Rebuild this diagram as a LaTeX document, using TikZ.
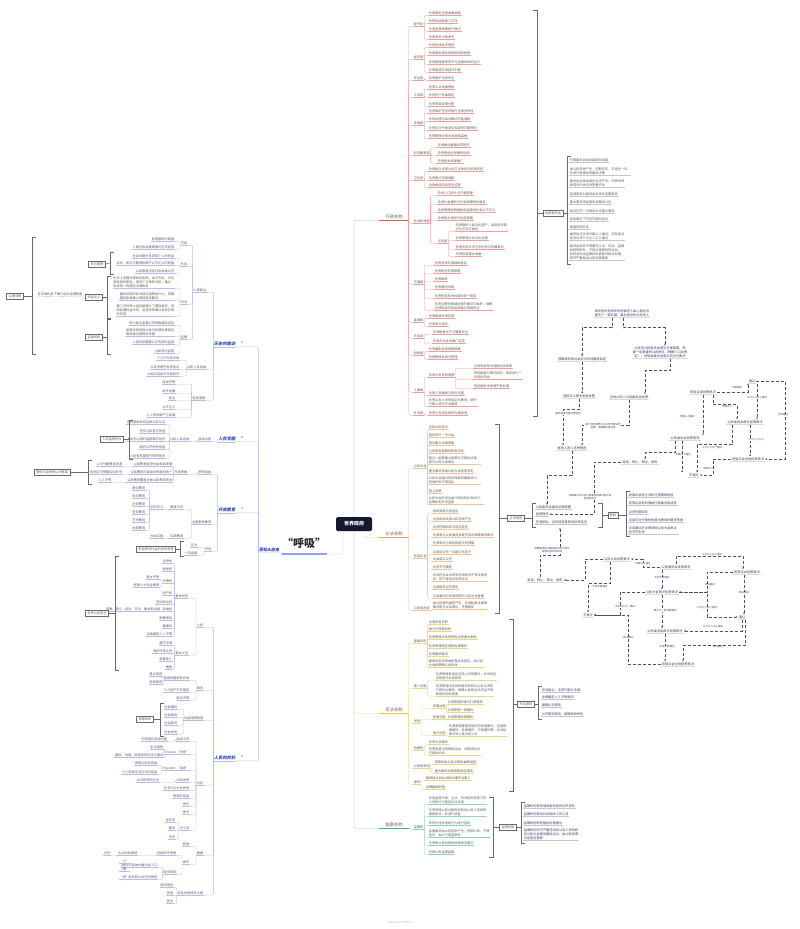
\documentclass[tikz,border=0pt]{standalone}
\usepackage{fontspec}
\setmainfont{Noto Sans CJK SC}
\newfontfamily\blfont[FakeSlant=0.18]{Noto Sans CJK SC}
\usetikzlibrary{arrows.meta}
\definecolor{txtc}{HTML}{5A5A5A}
\definecolor{rdl}{HTML}{EBA098}
\definecolor{rdm}{HTML}{D9534F}
\definecolor{orl}{HTML}{F2C39A}
\definecolor{orm}{HTML}{F0A050}
\definecolor{yll}{HTML}{EED77A}
\definecolor{ylm}{HTML}{F2C631}
\definecolor{grl}{HTML}{8FD3BC}
\definecolor{grm}{HTML}{3DB489}
\definecolor{bll}{HTML}{B3BFEA}
\definecolor{blm}{HTML}{8C9FF0}
\definecolor{blt}{HTML}{2E4BB0}
\definecolor{navy}{HTML}{3A3A66}
\definecolor{boxc}{HTML}{6A6A6A}
\definecolor{wbox}{HTML}{17172F}
\definecolor{fdash}{HTML}{505060}
\newcommand\lfont{\fontsize{3.2}{3.9}\selectfont}
\newcommand\sfont{\fontsize{2.5}{3.0}\selectfont}
\tikzset{
 lf/.style={font=\lfont, text=txtc, inner xsep=0.6pt, inner ysep=0.5pt, align=left},
 ln/.style={line width=0.35pt, rounded corners=1.2pt},
 mainlab/.style={font=\fontsize{4.3}{5}\selectfont, text=txtc, inner xsep=6pt, inner ysep=1pt},
 blab/.style={font=\fontsize{4.2}{5}\selectfont\blfont\bfseries, text=blt, inner xsep=0.6pt, inner ysep=0.5pt},
 sl/.style={font=\sfont, text=gray, inner sep=0.3pt},
 boxn/.style={draw=boxc, line width=0.5pt, font=\lfont, text=txtc, inner xsep=2pt, inner ysep=1.5pt, fill=white},
 brk/.style={draw=boxc, line width=0.5pt},
 fl/.style={font=\lfont, text=navy, inner sep=1pt, align=center},
 fa/.style={densely dashed, line width=0.4pt, draw=fdash, -{Stealth[length=2pt,width=1.8pt]}},
 el/.style={font=\sfont, text=navy, fill=white, inner sep=0.3pt, align=center},
 sumt/.style={lf, text=navy},
}
\newcommand\RCX[7]{\node[#1,anchor=west] (#3) at (#4,#5) {#7};
 \draw[#6,ln] (#3.south west) -- (#3.south east);
 \draw[#6,ln] (#3.south west) -| (#2.south east);}
\newcommand\LCX[7]{\node[#1,anchor=east] (#3) at (#4,#5) {#7};
 \draw[#6,ln] (#3.south west) -- (#3.south east);
 \draw[#6,ln] (#3.south east) -| (#2.south west);}
\newcommand\RC{\RCX{lf}}
\newcommand\LC{\LCX{lf}}
\newcommand\RG[5]{\foreach \yy/\tx [count=\k] in {#5}{\RC{#1}{#2\k}{#3}{\yy}{#4}{\tx}}}
\newcommand\LG[5]{\foreach \yy/\tx [count=\k] in {#5}{\LC{#1}{#2\k}{#3}{\yy}{#4}{\tx}}}
\newcommand\sumlist[4]{\foreach \yy/\tx [count=\k] in {#4}{\node[sumt,anchor=west,text=#3] (#1\k) at (#2,\yy) {\tx};
 \draw[gray!45,line width=0.35pt] (#1\k.south west) -- (#1\k.south east);}}
\newcommand\brL[3]{\draw[brk] (#1+4,#2) -- (#1,#2) -- (#1,#3) -- (#1+4,#3);}
\newcommand\brR[3]{\draw[brk] (#1-4,#2) -- (#1,#2) -- (#1,#3) -- (#1-4,#3);}
\newcommand\fn[4]{\node[fl] (#1) at (#2,#3) {#4};
 \draw[gray!30,line width=0.6pt] (#1.south west) -- (#1.south east);}
\begin{document}
\begin{tikzpicture}[x=1pt,y=-1pt]
\fill[white] (0,0) rectangle (800,929);
\useasboundingbox (0,0) rectangle (800,929);

% ---------- centre ----------
\node[fill=wbox, text=white, rounded corners=1.5pt, minimum width=36pt, minimum height=14pt, inner sep=1pt,
 font=\fontsize{5}{6}\selectfont\bfseries] (W) at (354,524) {世界政府};
\node[font=\fontsize{11}{12}\selectfont\bfseries, text=black!85, inner sep=0pt] (HX) at (304,543) {“呼吸”};
\coordinate (HXl) at (282,554);
\coordinate (HXr) at (327,554);
\draw[blm, line width=1.6pt] (HXl) -- (HXr);
\draw[bll,ln] (HXr) -| ([xshift=-11pt]W.south);

% ---------- main right labels ----------
\node[mainlab] (XZ) at (394,217) {行政机构};
\draw[rdm,line width=1.3pt] (XZ.south west) -- (XZ.south east);
\draw[rdl,ln] (XZ.south west) -| (W.north);
\node[mainlab] (LF) at (394,534) {立法机构};
\draw[orm,line width=1.3pt] (LF.south west) -- (LF.south east);
\draw[orl,ln] (LF.south west) -| ([xshift=11pt]W.south);
\node[mainlab] (SF) at (394,710) {司法机构};
\draw[ylm,line width=1.3pt] (SF.south west) -- (SF.south east);
\draw[yll,ln] (SF.south west) -| (W.south);
\node[mainlab] (JC) at (394,825) {监察机构};
\draw[grm,line width=1.3pt] (JC.south west) -- (JC.south east);
\draw[grl,ln] (JC.south west) -| (W.south);

% ---------- 行政机构 ----------
\RC{XZ}{s1}{413}{24}{rdl}{秘书处}
\RG{s1}{ra}{428}{rdl}{13/负责制定全球发展战略,21/负责协调各部门工作,29/负责监督政策执行情况,37/负责发布行政命令}
\RC{XZ}{s2}{413}{57}{rdl}{经济部}
\RG{s2}{rb}{428}{rdl}{45/负责全球经济规划,53/负责制定国际贸易规则和税收,62/负责管理世界货币与金融体系的运行,70/负责促进区域经济平衡}
\RC{XZ}{s3}{413}{78}{rdl}{安全部}
\RG{s3}{rc}{428}{rdl}{78/负责维护全球安全}
\RC{XZ}{s4}{413}{95}{rdl}{工业部}
\RG{s4}{rd}{428}{rdl}{87/负责工业发展规划,95/负责生产标准制定,104/负责资源合理分配}
\RC{XZ}{s5}{413}{123}{rdl}{环境部}
\RG{s5}{re}{428}{rdl}{111/负责保护生态环境与生物多样性,119/负责治理污染并推动节能减排,128/负责应对气候变化和自然灾害预防,136/负责管理全球水资源和森林}
\RC{XZ}{s6}{413}{153}{rdl}{科学教育部}
\RG{s6}{rf}{437}{rdl}{145/负责推动基础科学研究,153/负责管理全球教育体系,161/负责技术成果推广}
\RC{XZ}{s7}{413}{178}{rdl}{卫生部}
\RG{s7}{rg}{428}{rdl}{169/负责建立全球公共卫生体系与疾病防控,178/负责医疗资源调配,185/负责食品药品安全监管}
\RC{XZ}{s8}{413}{221}{rdl}{社会民政部}
\RG{s8}{rh}{437}{rdl}{193/负责人口统计与户籍管理,202/负责社会福利与社会保障体系建设,210/负责保障弱势群体权益推动社会公平正义,218/负责城乡规划与住房保障}
\RC{s8}{s8b}{437}{241}{rdl}{文化部}
\RG{s8b}{ri}{455}{rdl}{227/{负责保护人类文化遗产，促进各民族\\文化交流与融合},238/负责管理公共文化设施,247/负责支持文学艺术创作与传播事务,254/负责体育事业发展}
\RC{XZ}{s9}{413}{282}{rdl}{交通部}
\RG{s9}{rj}{434}{rdl}{263/负责全球交通网络建设,271/负责航空航海管理,279/负责邮政,287/负责通信网络,296/负责信息技术标准的统一制定,306/{负责互联网基础设施的建设与维护，保障\\全球信息的自由流通与网络安全}}
\RC{XZ}{s10}{413}{320}{rdl}{能源部}
\RG{s10}{rk}{428}{rdl}{316/负责能源开发利用,324/负责电力供应}
\RC{XZ}{s11}{413}{336}{rdl}{农业部}
\RG{s11}{rl}{432}{rdl}{332/负责粮食生产与储备安全,341/负责农业技术推广应用}
\RC{XZ}{s12}{413}{353}{rdl}{财政部}
\RG{s12}{rm}{428}{rdl}{349/负责编制全球财政预算,357/负责税收征收与管理}
\RC{XZ}{s13}{413}{390}{rdl}{人事部}
\RC{s13}{s13b}{428}{375}{rdl}{负责公务员的管理}
\RG{s13b}{rn}{473}{rdl}{366/公务员由考试选拔择优录取,375/{考核结果与晋升挂钩，每年进行一\\次综合评估},386/违纪者依法依规严肃处理}
\RG{s13}{ro}{428}{rdl}{393/负责人员编制与岗位设置,402/{负责公务人员的培训与教育，提升\\行政人员的专业素质}}
\RC{XZ}{s14}{413}{413}{rdl}{外交部}
\RG{s14}{rp}{428}{rdl}{413/负责与各地区政府沟通协调}

\brR{537}{10}{416}
\node[boxn] (XB) at (553,213) {执政委员会};
\draw[brk] (537,213) -- (XB.west);
\brL{567}{156}{264}
\draw[brk] (XB.east) -- (567,213);
\sumlist{xl}{569}{txtc}{160/行政委员会由各部部长组成,171/{由公民选举产生，任期五年，可连任一次，\\负责行政事务的最终决策},183/{委员会主席由委员互选产生，代表世界\\政府对外发言并签署文件},194/各部部长对委员会负责并定期报告,202/重大事项须经委员会集体讨论,211/每月召开一次例会讨论重大事项,219/紧急情况下可召开临时会议,227/每届任期五年,236/{委员会决议须半数以上通过，涉及宪法\\的决议须三分之二以上通过},252/{委员会成员不得兼任立法、司法、监察\\机构的职务，不得从事营利性活动，\\如有违反由监察机构调查并依法处理，\\情节严重者由公民投票罢免}}

% ---------- 立法机构 ----------
\RC{LF}{o1}{413}{466}{orl}{公民大会}
\RG{o1}{oa}{428}{orl}{427/全体公民参与,435/每年举行一次大会,443/审议重大法律草案,451/公民享有提案权和表决权,460/{超过一定数量公民联名可提出议案，\\提交公民大会审议},471/重大事项须由公民大会投票决定,480/{公民大会通过的法律具有最高效力，\\其他机构不得违反},491/网上投票,500/{公民大会的决议由行政机构负责执行，\\监察机构负责监督}}
\RC{LF}{o2}{413}{556}{orl}{民族议会}
\RG{o2}{ob}{432}{orl}{511/各民族按比例选出,519/议员由本民族公民选举产生,527/议员任期四年可连选连任,535/负责审议公民委员会提交的法律草案并表决,543/负责审议行政机构提交的预算,552/议会设议长一名副议长若干,559/议会会议公开,567/议员不可兼职,577/{议员在议会中的发言和表决不受法律追\\究，但不得违反世界宪法},587/议会每年召开两次,596/议会通过的法律须提交公民大会备案}
\RC{LF}{o3}{413}{608}{orl}{公民委员会}
\RG{o3}{oc}{432}{orl}{605/{由公民随机抽签产生，负责起草法律草\\案并提交议会审议，任期两年}}

\brR{499}{424}{613}
\node[boxn] (TA) at (516,518) {立法程序};
\draw[brk] (499,518) -- (TA.west);
\brL{532}{503}{527}
\draw[brk] (TA.east) -- (532,518);
\sumlist{ta}{535}{navy}{507/公民委员会提出法律草案,514/选举程序,522/在选举后，议员须宣誓效忠世界宪法}
\brR{602}{503}{527}
\node[boxn] (TB) at (613,515) {职权};
\draw[brk] (602,515) -- (TB.west);
\brL{626}{491}{536}
\draw[brk] (TB.east) -- (626,515);
\sumlist{tb}{628}{navy}{495/民族议会有立法权与预算审批权,503/民族议会有权弹劾行政委员会成员,512/议员任期四年,520/议会可对行政机构提出质询并要求答复,530/{议会通过的法律须经公民大会审议\\后方可生效}}

% ---------- 司法机构 ----------
\RC{SF}{y1}{413}{641}{yll}{最高法院}
\RG{y1}{ya}{428}{yll}{622/法官终身任职,629/独立行使审判权,637/负责审理涉及世界宪法的重大案件,646/负责审理跨区域的民事案件,654/负责最终裁决,663/{最高法院法官由民族议会提名，经公民\\大会投票确认后任命}}
\RC{SF}{y2}{413}{686}{yll}{第二法庭}
\RG{y2}{yb}{435}{yll}{676/{负责审理各地区法院上诉的案件，并对地区\\法院进行业务指导},690/{负责审理涉及世界政府机构与公民之间的\\行政诉讼案件，保障公民的合法权益不受\\政府机构的侵害}}
\RC{SF}{y3}{413}{721}{yll}{法院}
\RC{y3}{y3a}{432}{706}{yll}{刑事法庭}
\RG{y3a}{yc}{447}{yll}{702/负责审理刑事与行政案件,710/负责审理一审案件}
\RC{y3}{y3b}{432}{717}{yll}{民事法庭}
\RG{y3b}{yd}{447}{yll}{717/负责审理民事案件}
\RC{y3}{y3c}{432}{733}{yll}{地方法院}
\RG{y3c}{ye}{448}{yll}{730/{负责审理管辖区域内的各类案件，包括刑\\事案件、民事案件、行政案件等，判决结\\果可向上级法院上诉}}
\RC{SF}{y4}{413}{748}{yll}{检察院}
\RG{y4}{yf}{428}{yll}{742/负责公诉案件,751/{负责监督法院审判活动，对错误判决\\可提出抗诉}}
\RC{SF}{y5}{413}{766}{yll}{公民陪审团}
\RG{y5}{yg}{434}{yll}{762/陪审员由公民中随机抽取组成,771/重大案件由陪审团裁定事实}
\RC{SF}{y6}{413}{782}{yll}{律师}
\RG{y6}{yh}{425}{yll}{778/律师独立执业并依法维护当事人,787/法律援助制度}

\brR{513}{619}{791}
\node[boxn] (TC) at (526,704) {司法原则};
\draw[brk] (513,704) -- (TC.west);
\brL{538}{686}{719}
\draw[brk] (TC.east) -- (538,704);
\sumlist{tc}{541}{navy}{690/司法独立，法官只服从法律,697/法律面前人人平等原则,705/疑罪从无原则,714/公开审判原则，保障辩护权利}

% ---------- 监察机构 ----------
\RC{JC}{g1}{413}{827}{grl}{监察院}
\RG{g1}{ga}{428}{grl}{800/{负责监督行政、立法、司法机构及其工作\\人员的行为是否合法合规},812/{负责受理公民对政府机构及公务人员的举\\报和投诉，并进行调查},823/负责对违法违纪行为进行查处,833/{监察委员由公民选举产生，任期六年，不得\\连任，独立行使监察权},843/负责审计各机构的财政收支情况,852/负责公布监察结果}
\brR{493}{797}{857}
\node[boxn] (TD) at (508,827) {监察权限};
\draw[brk] (493,827) -- (TD.west);
\brL{521}{802}{843}
\draw[brk] (TD.east) -- (521,827);
\sumlist{td}{523}{navy}{806/监察机构有权调阅各机构的文件资料,814/监察机构有权约谈相关工作人员,823/监察机构有权提出处理建议,834/{监察机构对于严重违法的公务人员有权\\向公民大会提出罢免动议，由公民投票\\决定是否罢免}}

% ---------- upper flowchart ----------
\fn{F1}{622}{313}{每年举办选举年份的候选人由上届议员\\提名下一届名额，最后由全体公民选人}
\fn{F2}{582}{359}{预算被民族议会否决后须重新拟定}
\fn{F3}{660}{352}{公民向公民委员会提交法律草案，须\\要一定数量的公民联名（根据人口比例\\定），然后由委员会审议后交付表决}
\fn{F4}{579}{396}{选民可以再次发起投票}
\fn{F5}{629}{397}{全体公民入公民委员会投票}
\fn{F6}{572}{448}{候选人进入选举程序}
\fn{F7}{640}{462}{导读、转让、审议、授权}
\fn{F8}{703}{392}{民族议会投票表决}
\fn{F9}{752}{381}{通过}
\fn{F10}{745}{422}{公民委员会再次投票表决}
\fn{F11}{685}{438}{公民委员会投票表决}
\fn{F12}{748}{459}{民族议会全体投票表决}
\fn{F13}{694}{475}{不通过}
\draw[fa] ([xshift=-10pt]F1.south) -- ++(0,10) -| (F2.north);
\draw[fa] ([xshift=1pt]F1.south) -- ++(0,10) -| ([xshift=5pt]F3.north);
\draw[fa] (F2.south) -- (F2.south |- F4.north);
\draw[fa] ([xshift=10pt]F3.south) -- ++(0,12) -| ([xshift=16pt]F5.north);
\draw[fa] (F4.south) -- ++(0,11) -| ([xshift=-9pt]F6.north);
\draw[fa] (F5.south) -- ++(0,25) -| ([xshift=10pt]F6.north);
\node[el] (e1) at (568,414) {每年选举可能比例选出};
\node[el] (e2) at (603,426) {每个选区按照人口比例分配议员\\名额，选票最多者当选};
\draw[fa] (F6.south) -- ++(0,25) -| ([xshift=12pt]ta1.north west);
\draw[fa] (F7.west) -- (594,462) |- (ta2.east);
\node[el] (e3) at (590,497) {议案审议可以在公民委员会或公民大会\\完成后进行};
\draw[fa] (F8.south) -- (F8.south |- F11.north);
\node[el] (e4) at (687,417) {半数以上通过};
\draw[fa] (F8.east) -| ([xshift=-4pt]F9.south);
\node[el] (e5) at (737,388) {半数通过};
\draw[fa] ([xshift=10pt]F8.south) -- ++(0,10) -| ([xshift=-8pt]F10.north);
\node[el] (e6) at (727,407) {半数以下};
\draw[fa] ([xshift=5pt]F9.south) -- ([xshift=5pt]F9.south |- F10.north);
\node[el] (e7) at (757,398) {三分之二以上通过};
\draw[fa] (F9.east) -- (785,381) |- (F12.east);
\node[el] (e8) at (783,415) {全体通过};
\draw[fa] ([xshift=5pt]F10.south) -- ([xshift=5pt]F10.south |- F12.north);
\node[el] (e9) at (756,440) {三分之二以上};
\draw[fa] ([xshift=-13pt]F10.south) -- ++(0,20) -| ([xshift=3pt]F13.north);
\node[el] (e10) at (712,448) {三分之二以下通过};
\draw[fa] ([xshift=-10pt]F11.south) -- ++(0,12) -| ([xshift=5pt]F7.north);
\draw[fa] ([xshift=-3pt]F11.south) -- ([xshift=-3pt]F11.south |- F13.north);
\node[el] (e11) at (683,455) {半数以下通过};
\draw[fa] (F12.west) -- (713,459) |- (F13.east);
\node[el] (e12) at (708,469) {半数以下};

% ---------- lower flowchart ----------
\fn{L0}{545}{580}{导读、转让、审议、授权}
\fn{L1}{617}{559}{公民大会投票表决}
\fn{L2}{676}{567}{公民委员会投票表决}
\fn{L3}{747}{572}{民族议会投票表决}
\fn{L4}{662}{592}{公民大会再次投票表决}
\fn{L5}{588}{615}{不通过}
\fn{L6}{742}{617}{通过}
\fn{L7}{665}{631}{公民委员会再次投票表决}
\fn{L8}{678}{664}{民族议会全体投票表决}
\draw[fa] ([xshift=-5pt]L0.north) -- ++(0,-22) -| (560,528);
\node[el] (e13) at (552,550) {宗教或地区问题须由公民大会与\\民族议会共同决议};
\draw[fa] (L1.west) -- (585,559) |- (L0.east);
\draw[fa] (L2.west) -- (643,567) |- (L1.east);
\node[el] (e14) at (643,564) {半数以上通过};
\draw[fa] (L2.north) -- ++(0,-8) -| ([xshift=-4pt]L3.north);
\node[el] (e15) at (712,555) {三分之二以上通过};
\draw[fa] ([xshift=-14pt]L2.south) -- ([xshift=-14pt]L2.south |- L4.north);
\node[el] (e16) at (662,578) {不足半数通过};
\draw[fa] (L3.west) -- (707,572) |- (L4.east);
\node[el] (e17) at (710,585) {表决通过};
\draw[fa] (L4.east) -- (707,592) |- (L6.west);
\node[el] (e18) at (707,608) {三分之二以上通过};
\draw[fa] ([xshift=-3pt]L3.south) -- ([xshift=-3pt]L3.south |- L6.north);
\node[el] (e19) at (744,593) {表决通过};
\draw[fa] (L6.south) |- (L7.east);
\node[el] (e20) at (713,627) {三分之二以上通过};
\draw[fa] ([xshift=3pt]L6.south) -- ++(0,26) -| ([xshift=5pt]L8.north);
\node[el] (e21) at (718,647) {表决通过};
\draw[fa] (L4.south) -- (L4.south |- L7.north);
\node[el] (e22) at (665,611) {四分之一至半数通过};
\draw[fa] (L7.south) -- (L7.south |- L8.north);
\node[el] (e23) at (667,647) {不足半数通过};
\draw[fa] (L4.west) -- (620,592) |- (L5.east);
\node[el] (e24) at (625,607) {不足四分之一通过};
\draw[fa] ([xshift=-7pt]L1.south) -- ++(0,22) -| (L5.north);
\node[el] (e25) at (600,587) {不足半数通过};
\draw[fa] (L8.west) -- (628,664) |- (L5.east);
\node[el] (e26) at (628,638) {否决通过};

% ---------- left side ----------
\node[blab,anchor=east] (YS) at (280,550) {原始\&自由};
\draw[bll,ln] (YS.south west) -- (YS.south east) -- (HXl);

\LCX{blab}{YS}{B1}{236}{344}{bll}{历史的教训}
\node[sl] (B1s) at (242,343) {宗};
\LC{B1}{C1}{207}{290}{bll}{人类政治}
\LC{C1}{m1}{188}{243}{bll}{市场}
\LG{m1}{ma}{175}{bll}{239/民意基础与制度,247/人类社会发展规律与历史经验}
\LC{C1}{m2}{188}{264}{bll}{社会}
\LG{m2}{mb}{175}{bll}{256/社会问题关系到每个人的利益,263/合作、和平与繁荣依赖于公平正义的制度,271/公民素质决定社会发展水平}
\LC{C1}{m3}{188}{302}{bll}{司法}
\LG{m3}{mc}{175}{bll}{282/{历史上各国法律体系各异，由于历史、文化\\和民族的差异，造成了法律的冲突，难以\\形成统一的国际法律体系},296/{国际法院的判决缺乏强制执行力，导致\\国际争端难以得到有效解决},310/{第二次世界大战后虽建立了国际组织，但\\因各国利益冲突，这些机构难以发挥应有\\的作用}}
\LC{C1}{m4}{188}{337}{bll}{监察}
\LG{m4}{md}{175}{bll}{323/权力缺乏监督必然导致腐败滋生,332/{监察机构的独立性与权威性是保证\\政府廉洁高效的关键},342/人类社会需要公正有效的监督,351/公民参与监督}
\LC{B1}{C2}{207}{367}{bll}{公民人身自由}
\LG{C2}{mf}{180}{bll}{358/个人行为有约束,367/公民须遵守世界宪法,374/公民的自由不可被剥夺}
\LC{B1}{C3}{206}{398}{bll}{选择道路}
\LG{C3}{mg}{176}{bll}{382/自由平等,391/和平发展,398/民主,407/公平正义,415/人人享有尊严与幸福}
\node[boxn] (K1) at (97,264) {参与智慧};
\brL{110}{252}{274}
\draw[brk] (K1.east) -- (110,263);
\node[boxn] (K2) at (94,297) {利益主义};
\brL{107}{276}{318}
\draw[brk] (K2.east) -- (107,297);
\node[boxn] (K3) at (94,337) {监督机构};
\brL{107}{319}{354}
\draw[brk] (K3.east) -- (107,337);
\node[boxn] (K0) at (15,296) {公理观察};
\brL{32}{237}{354}
\draw[brk] (K0.east) -- (32,296);
\node[lf] (K0t) at (60,294) {在法律约束下推行全民自律制度};
\draw[bll,ln] (K0t.south west) -- (K2.west);

\LCX{blab}{YS}{B2}{236}{439}{bll}{人民觉醒}
\node[sl] (B2s) at (242,438) {政};
\LC{B2}{C4}{212}{439}{bll}{自由公民}
\LC{C4}{C5}{190}{439}{bll}{公民人身自由}
\LG{C5}{mh}{166}{bll}{422/选民基础来自全体公民认证,431/任何公民皆可参选,439/人民可以随时监督政府运作,447/政府公开所有信息,456/人民有权罢免不称职官员}
\node[boxn] (K4) at (112,439) {人民监督作业};
\brL{129}{420}{459}
\draw[brk] (K4.east) -- (129,439);

\LCX{blab}{YS}{B3}{236}{510}{bll}{开放教育}
\node[sl] (B3s) at (242,509) {法};
\LC{B3}{D1}{212}{472}{bll}{思想自由}
\LC{D1}{D1a}{188}{472}{bll}{开放思维}
\LC{D1a}{da1}{173}{464}{bll}{公民教育促进社会和谐发展}
\LC{D1a}{da2}{173}{472}{bll}{公民教育内容由世界政府统一}
\LC{D1a}{da3}{173}{480}{bll}{公民教育覆盖全体公民贯穿终身}
\LC{da1}{db1}{123}{464}{bll}{公平分配教育资源}
\LC{da2}{db2}{123}{472}{bll}{各地区可根据实际补充}
\LC{da3}{db3}{112}{480}{bll}{人人平等}
\node[boxn] (K5) at (52,472) {思想与自然的认识框架};
\brL{88}{460}{484}
\draw[brk] (K5.east) -- (88,472);
\LC{B3}{D2}{212}{522}{bll}{全面素质教育}
\LC{D2}{D2a}{184}{507}{bll}{教育方式}
\LC{D2a}{D2b}{164}{507}{bll}{学科学习}
\LG{D2b}{dc}{146}{bll}{488/数学教育,496/科学教育,504/历史教育,512/语言教育,520/艺术教育,528/体育教育}
\LC{D2}{D2c}{184}{536}{bll}{实践教育}
\LC{D2c}{D2d}{164}{536}{bll}{社会实践}
\LC{B3}{D3}{212}{549}{bll}{市场}
\LC{D3}{D3a}{198}{545}{bll}{实力}
\LC{D3}{D3b}{198}{553}{bll}{一流品牌}
\node[boxn] (K6) at (156,549) {来自现代社会的进步思想};
\brL{180}{541}{556}
\draw[brk] (K6.east) -- (180,549);

\LCX{blab}{YS}{B4}{236}{758}{bll}{人民的权利}
\node[sl] (B4s) at (242,757) {宗};
\LC{B4}{E1}{204}{625}{bll}{人权}
\LC{E1}{E1a}{189}{596}{bll}{基本权利}
\LG{E1a}{ea}{173}{bll}{561/生命权,569/居住权,581/平等权,593/财产权,602/劳动就业权,609/自由权,618/受教育权,626/健康权,634/法律面前人人平等}
\LC{ea3}{eb1}{160}{577}{bll}{男女平等}
\LC{ea3}{eb2}{160}{585}{bll}{残障人士权益保障}
\LC{ea6}{eb3}{161}{609}{bll}{宗教、游行、结社、言论、集会和出版}
\LC{E1}{E1b}{189}{653}{bll}{基本义务}
\LG{E1b}{ec}{173}{bll}{643/遵守法律,651/保护环境之责,659/尊重他人,667/纳税}
\node[boxn] (K7) at (97,613) {世界公民宣言};
\brL{115}{556}{670}
\draw[brk] (K7.east) -- (115,613);
\LC{B4}{E2}{204}{688}{bll}{政府}
\LC{E2}{E2a}{190}{678}{bll}{选择性国家联合体}
\LC{E2a}{ed1}{163}{674}{bll}{建立政府}
\LC{E2a}{ed2}{163}{682}{bll}{有效政府}
\LC{E2}{E2b}{190}{690}{bll}{个人财产不可侵犯}
\LC{E2}{E2c}{190}{698}{bll}{政治平等}
\LC{B4}{E3}{204}{718}{bll}{社会保障制度}
\LG{E3}{ee}{178}{bll}{707/社会福利,715/社会保险,723/社会救济,732/社会优抚}
\node[boxn] (K8) at (145,719) {保障体系};
\brL{160}{703}{736}
\draw[brk] (K8.east) -- (160,719);
\LC{B4}{E4}{204}{783}{bll}{文化}
\LC{E4}{f1}{190}{739}{bll}{自由工作}
\LC{f1}{f1a}{168}{739}{bll}{时间相对自由分配}
\LC{E4}{f2}{190}{752}{bll}{Diverse “多样”}
\LC{f2}{f2a}{164}{747}{bll}{生活富裕}
\LC{f2}{f2b}{164}{755}{bll}{国际、地域、民族间的交流与融合}
\LC{E4}{f3}{190}{768}{bll}{Freedom “自由”}
\LC{f3}{f3a}{158}{763}{bll}{思想与信仰自由}
\LC{f3}{f3b}{158}{772}{bll}{个人选择生活方式的自由}
\LC{E4}{f4}{190}{780}{bll}{认知世界}
\LC{f4}{f4a}{160}{780}{bll}{认识世界的方式}
\LC{E4}{f5}{190}{788}{bll}{艺术与文化多样性}
\LC{E4}{f6}{190}{796}{bll}{思想的自由}
\LC{E4}{f7}{190}{804}{bll}{音乐}
\LC{E4}{f8}{190}{812}{bll}{美术}
\LC{E4}{f9}{190}{828}{bll}{中小学}
\LG{f9}{fq}{176}{bll}{820/语言学,828/数学,837/历史}
\LC{B4}{E5}{204}{853}{bll}{健康}
\LC{E5}{h1}{190}{844}{bll}{回收}
\LC{E5}{h2}{190}{862}{bll}{城市}
\LC{h2}{h2a}{177}{853}{bll}{百姓和平思想}
\LC{h2a}{h2b}{138}{853}{bll}{大众的发展观}
\LC{h2b}{h2c}{111}{853}{bll}{为何}
\LC{h2}{h2d}{177}{872}{bll}{城市规划}
\LC{h2d}{h3a}{158}{865}{bll}{城市可容纳大量社会人口}
\LC{h2d}{h3b}{158}{877}{bll}{城市的公共空间规划}
\LC{h3a}{h4a}{130}{861}{bll}{“小”}
\LC{h3a}{h4b}{130}{869}{bll}{“慢”}
\LC{h3b}{h4c}{130}{877}{bll}{“绿”}
\LC{B4}{E6}{204}{893}{bll}{前往优秀城市之家}
\LG{E6}{hh}{174}{bll}{885/城市规划,893/安居,901/就业}

\node[font=\fontsize{3}{3.5}\selectfont, text=gray!50] (wm) at (400,922) {Made with XMind};
\end{tikzpicture}
\end{document}
